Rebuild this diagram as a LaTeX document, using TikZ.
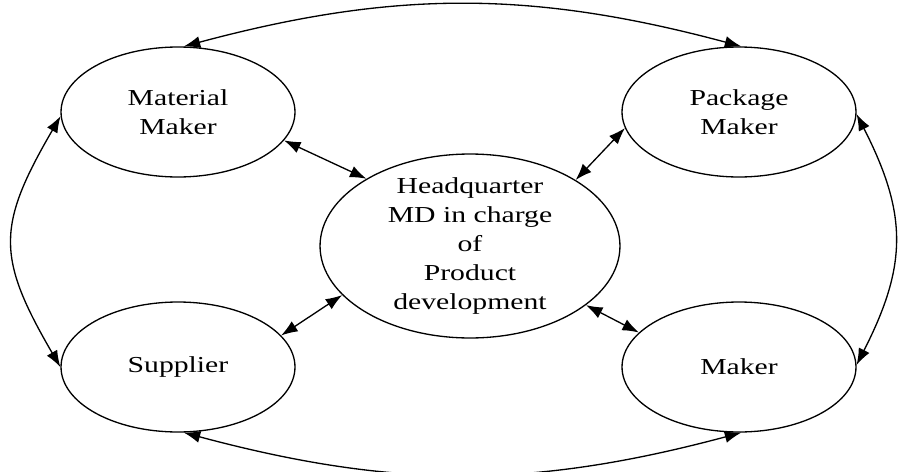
\documentclass[tikz,border=0pt]{standalone}
\usepackage{fontspec}
\setmainfont{Liberation Serif}[FakeStretch=1.3]
\usetikzlibrary{shapes.geometric,arrows.meta}

\begin{document}
\begin{tikzpicture}[x=0.02cm,y=0.02cm,
  party/.style={draw,ellipse,line width=0.75pt,minimum width=4.68cm,minimum height=2.6cm,
    align=center,inner sep=0pt,font=\fontsize{13}{16.5}\selectfont},
  link/.style={{Latex[length=3.3mm,width=2.4mm]}-{Latex[length=3.3mm,width=2.4mm]},line width=0.75pt}]
\useasboundingbox (0,0) rectangle (899,471);

\node[party] (mm) at (178,359) {Material\\Maker};
\node[party] (pm) at (739,359) {Package\\Maker};
\node[party] (sup) at (178,104) {Supplier};
\node[party] (mk) at (739,104) {Maker};
\node[party,minimum width=6cm,minimum height=3.68cm,inner ysep=-4mm] (hq) at (470,225)
  {Headquarter\\MD in charge\\of\\Product\\development};

\draw[link] (mm.-15) -- (hq.147);
\draw[link] (pm.-172) -- (hq.32);
\draw[link] (sup.17.6) -- (hq.-159);
\draw[link] (mk.161.6) -- (hq.-27.8);

\draw[link] (mm.85) to[bend left=15] (pm.88);
\draw[link] (sup.-85) to[bend right=15] (mk.-88);
\draw[link] (mm.182) .. controls +(-64,-110) and +(-64,110) .. (sup.180);
\draw[link] (pm.-1.5) .. controls +(51,-100) and +(51,100) .. (mk.1);

\end{tikzpicture}
\end{document}
